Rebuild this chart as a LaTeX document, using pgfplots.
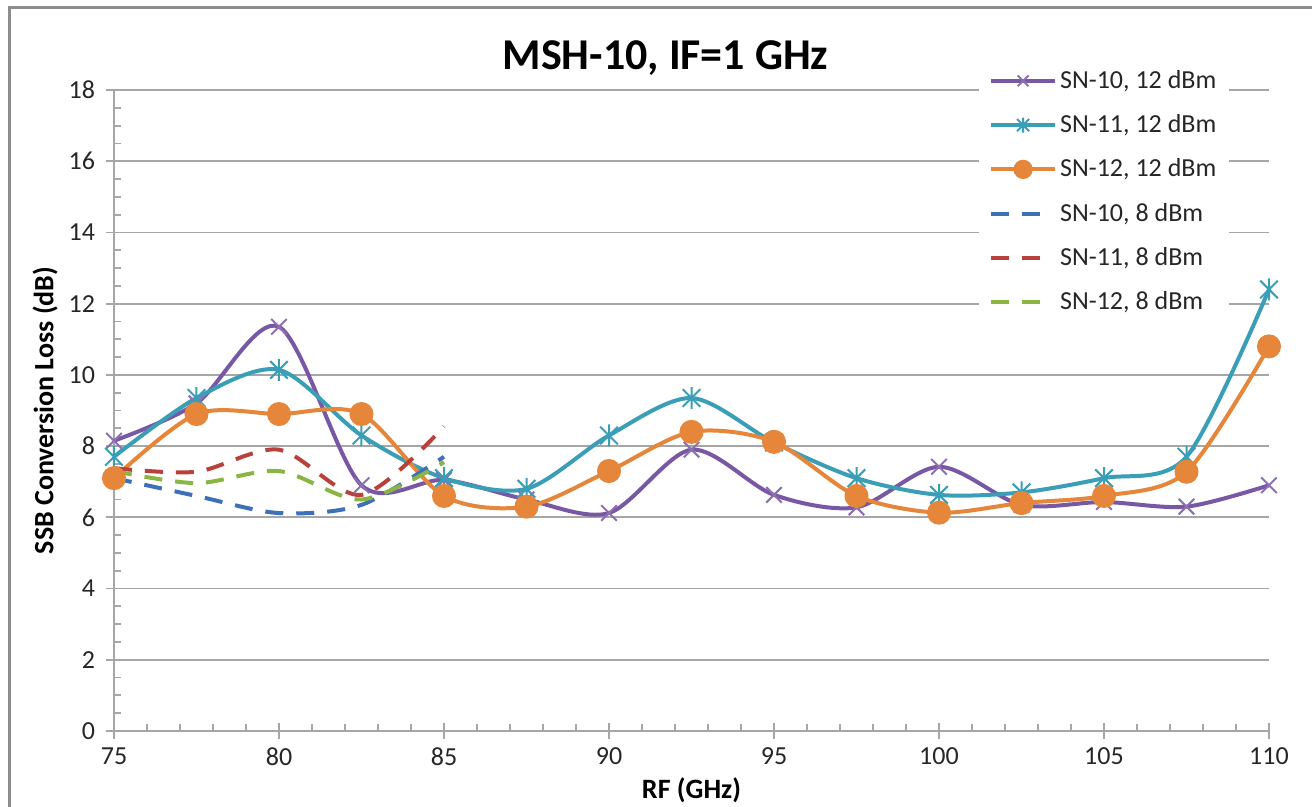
\documentclass[border=0pt]{standalone}
\usepackage{fontspec}
\setmainfont{Carlito}
\usepackage{pgfplots}
\pgfplotsset{compat=1.18}

\definecolor{cpurple}{HTML}{7857A4}
\definecolor{ccyan}{HTML}{3A9EB7}
\definecolor{corange}{HTML}{E5863A}
\definecolor{cblue}{HTML}{3E70B8}
\definecolor{cred}{HTML}{B8413C}
\definecolor{cgreen}{HTML}{8AB543}
\definecolor{gridgray}{HTML}{A6A6A6}

% Excel-like star marker: vertical bar plus an x
\pgfdeclareplotmark{xstar}{%
  \pgfpathmoveto{\pgfqpoint{0pt}{\pgfplotmarksize}}%
  \pgfpathlineto{\pgfqpoint{0pt}{-\pgfplotmarksize}}%
  \pgfpathmoveto{\pgfqpoint{-.8\pgfplotmarksize}{.8\pgfplotmarksize}}%
  \pgfpathlineto{\pgfqpoint{.8\pgfplotmarksize}{-.8\pgfplotmarksize}}%
  \pgfpathmoveto{\pgfqpoint{-.8\pgfplotmarksize}{-.8\pgfplotmarksize}}%
  \pgfpathlineto{\pgfqpoint{.8\pgfplotmarksize}{.8\pgfplotmarksize}}%
  \pgfusepathqstroke}

\pgfplotsset{
  solidentry/.style={legend image code/.code={
    \draw[##1] (0pt,0pt) -- (32pt,0pt);
    \draw[##1, only marks, mark size=3.8pt] plot coordinates {(16pt,0pt)};}},
  dashentry/.style={legend image code/.code={
    \draw[##1] (0pt,0pt) -- (25pt,0pt);}},
}

\begin{document}
\begin{tikzpicture}
\begin{axis}[
  name=ax,
  scale only axis,
  width=577.5pt, height=320.5pt,
  xmin=75, xmax=110, ymin=0, ymax=18,
  xtick={75,80,...,110},
  ytick={0,2,...,18},
  minor x tick num=4,
  minor y tick num=3,
  axis x line*=bottom,
  axis y line*=left,
  axis line style={gridgray, line width=0.9pt},
  ymajorgrids,
  major grid style={gridgray, line width=0.9pt},
  tick align=inside,
  major tick length=8pt,
  minor tick length=3.5pt,
  tick style={gridgray, line width=0.9pt},
  every major y tick/.style={xshift=-4pt},
  every major x tick/.style={yshift=-4pt},
  tick label style={font=\fontsize{13}{15}\selectfont, text=black!85},
  /pgf/number format/assume math mode=true,
  yticklabel style={xshift=-6pt},
  xticklabel style={yshift=-5pt},
  clip=false,
  legend style={
    at={(rel axis cs:0.966,1.05)}, anchor=north east,
    fill=white, draw=none,
    font=\fontsize{13}{15}\selectfont, text=black!85,
    row sep=7.6pt, inner xsep=5pt, inner ysep=4pt,
    nodes={inner xsep=1.5pt},
  },
  legend cell align=left,
  every axis plot/.append style={line width=2pt, smooth, tension=0.5},
]
\addplot[cpurple, mark=x, mark size=5.5pt, mark options={line width=1pt, solid, draw=cpurple!85!white}, solidentry] coordinates {
  (75,8.15) (77.5,9.2) (80,11.35) (82.5,6.9) (85,7.05) (87.5,6.5) (90,6.12)
  (92.5,7.9) (95,6.63) (97.5,6.28) (100,7.42) (102.5,6.35) (105,6.43) (107.5,6.3) (110,6.9)
};
\addlegendentry{SN-10, 12 dBm}
\addplot[ccyan, mark=xstar, mark size=5.5pt, mark options={line width=1pt, solid}, solidentry] coordinates {
  (75,7.7) (77.5,9.35) (80,10.14) (82.5,8.3) (85,7.1) (87.5,6.8) (90,8.3)
  (92.5,9.35) (95,8.1) (97.5,7.1) (100,6.63) (102.5,6.7) (105,7.1) (107.5,7.7) (110,12.4)
};
\addlegendentry{SN-11, 12 dBm}
\addplot[corange, mark=*, mark size=5pt, mark options={solid}, solidentry] coordinates {
  (75,7.1) (77.5,8.9) (80,8.9) (82.5,8.9) (85,6.6) (87.5,6.3) (90,7.3)
  (92.5,8.4) (95,8.12) (97.5,6.6) (100,6.13) (102.5,6.4) (105,6.6) (107.5,7.28) (110,10.8)
};
\addlegendentry{SN-12, 12 dBm}
\addplot[cblue, dash pattern=on 9pt off 6.5pt, dashentry] coordinates {
  (75,7.1) (77.5,6.6) (80,6.12) (82.5,6.35) (85,7.7)
};
\addlegendentry{SN-10, 8 dBm}
\addplot[cred, dash pattern=on 9pt off 6.5pt, dashentry] coordinates {
  (75,7.38) (77.5,7.28) (80,7.9) (82.5,6.63) (85,8.55)
};
\addlegendentry{SN-11, 8 dBm}
\addplot[cgreen, dash pattern=on 9pt off 6.5pt, dashentry] coordinates {
  (75,7.3) (77.5,6.96) (80,7.3) (82.5,6.5) (85,7.55)
};
\addlegendentry{SN-12, 8 dBm}
\end{axis}
\path[use as bounding box] ([xshift=-57pt,yshift=-38pt]ax.south west)
  rectangle ([xshift=21.5pt,yshift=45pt]ax.north east);
\draw[black!45, line width=1.5pt] ([xshift=-52pt,yshift=-60pt]ax.south west)
  -- ([xshift=-52pt,yshift=41pt]ax.north west) -- ([xshift=40pt,yshift=41pt]ax.north east);
\node[font=\bfseries\fontsize{22}{26}\selectfont] at ([xshift=-13pt,yshift=16pt]ax.north) {MSH-10, IF=1 GHz};
\node[font=\bfseries\fontsize{14}{17}\selectfont] at ([yshift=-29.5pt]ax.south) {RF (GHz)};
\node[font=\bfseries\fontsize{14}{17}\selectfont, rotate=90] at ([xshift=-34.5pt]ax.west) {SSB Conversion Loss (dB)};
\end{tikzpicture}
\end{document}
